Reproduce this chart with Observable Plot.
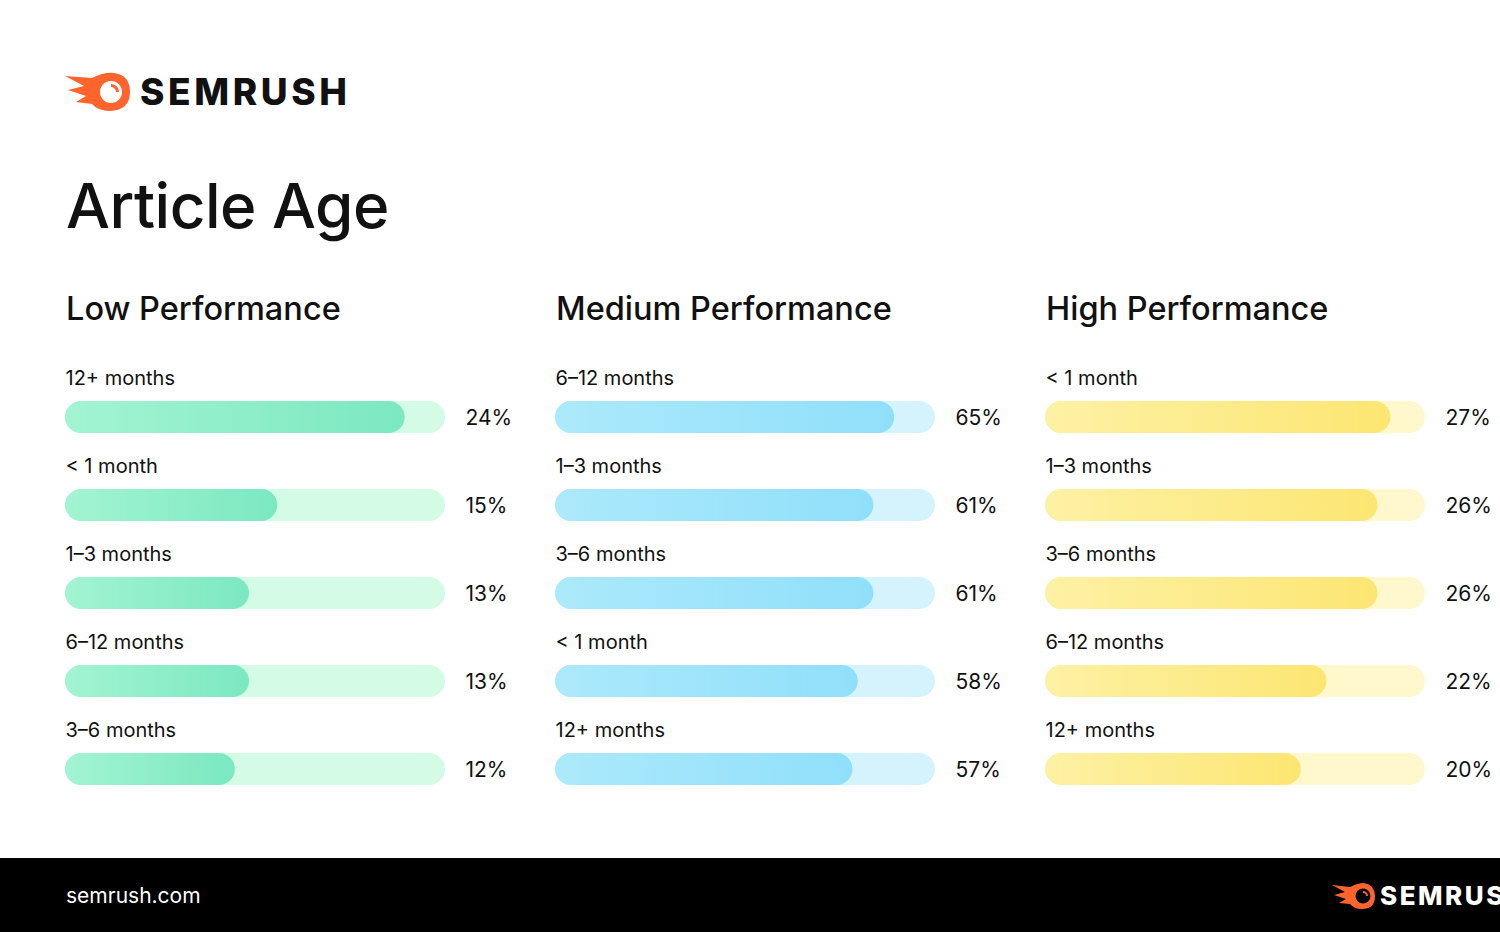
<!DOCTYPE html>
<html>
<head>
<meta charset="utf-8">
<script src="https://cdn.jsdelivr.net/npm/d3@7"></script>
<script src="https://cdn.jsdelivr.net/npm/@observablehq/plot@0.6"></script>
<style>
  html, body { margin: 0; padding: 0; background: #fff; }
  body { width: 1500px; height: 932px; position: relative; overflow: hidden; font-family: "Inter", "DejaVu Sans", sans-serif; color: #111; }
  .abs { position: absolute; }
  .title { left: 66px; top: 168px; font-size: 62px; font-weight: 500; letter-spacing: -0.5px; white-space: nowrap; }
  .ptitle { top: 289px; font-size: 32.5px; font-weight: 500; white-space: nowrap; }
  .footer { left: 0; top: 858px; width: 1500px; height: 74px; background: #000; }
  .footer .url { position: absolute; left: 66px; top: 25px; color: #fff; font-size: 21px; }
  svg.panel { position: absolute; overflow: visible; }
</style>
</head>
<body>
<!-- top logo -->
<svg class="abs" style="left:62px;top:68px" width="320" height="48" viewBox="0 0 320 48">
  <path d="M3 8 L30 10 Q42 4 52 5 Q68 7 68 24 Q68 42 48 43 Q36 43 30 36 L14 34 L24 28 L6 22 L22 18 Z" fill="#ff642d"/>
  <circle cx="49" cy="24" r="11" fill="#fff"/>
  <path d="M49 16 A8 8 0 0 1 57 24 L54 24 A5 5 0 0 0 49 19 Z" fill="#ff642d"/>
  <text x="78" y="37" font-family="Inter, sans-serif" font-weight="800" font-size="37" fill="#111" letter-spacing="3.6">SEMRUSH</text>
</svg>

<div class="abs title">Article Age</div>
<div class="abs ptitle" id="pt0" style="left:66px">Low Performance</div>
<div class="abs ptitle" id="pt1" style="left:556px">Medium Performance</div>
<div class="abs ptitle" id="pt2" style="left:1046px">High Performance</div>

<div class="abs footer">
  <div class="url">semrush.com</div>
  <svg style="position:absolute;left:1330px;top:22px" width="200" height="32" viewBox="0 0 200 32">
    <path d="M2 5 L20 7 Q28 3 34 3 Q45 5 45 16 Q45 29 32 29 Q24 29 20 24 L9 23 L16 19 L4 15 L15 12 Z" fill="#ff642d"/>
    <circle cx="33" cy="16" r="7.5" fill="#000"/>
    <path d="M33 11 A5 5 0 0 1 38 16 L36 16 A3 3 0 0 0 33 13 Z" fill="#ff642d"/>
    <text x="50" y="25" font-family="Inter, sans-serif" font-weight="800" font-size="26" fill="#fff" letter-spacing="2.5">SEMRUSH</text>
  </svg>
</div>

<script>
// ---- data ----
const panelTitles = ["Low Performance", "Medium Performance", "High Performance"];
const lowCategories = ["12+ months", "< 1 month", "1–3 months", "6–12 months", "3–6 months"];
const lowValues = [24, 15, 13, 13, 12];
const mediumCategories = ["6–12 months", "1–3 months", "3–6 months", "< 1 month", "12+ months"];
const mediumValues = [65, 61, 61, 58, 57];
const highCategories = ["< 1 month", "1–3 months", "3–6 months", "6–12 months", "12+ months"];
const highValues = [27, 26, 26, 22, 20];
const trackMax = [26.85, 72.8, 29.7];

// ---- styles ----
const palettes = [
  {track: "#d3fbe5", from: "#a3f4d2", to: "#7be8c1"},
  {track: "#d4f3fd", from: "#ace9fb", to: "#90dffa"},
  {track: "#fef8cc", from: "#fdf1a4", to: "#fce672"}
];
const lefts = [65, 555, 1045];
const panels = [
  [lowCategories, lowValues],
  [mediumCategories, mediumValues],
  [highCategories, highValues]
];

panels.forEach(([cats, vals], i) => {
  const data = cats.map((c, j) => ({category: c, value: vals[j]}));
  const max = trackMax[i];
  const pal = palettes[i];
  const svg = Plot.plot({
    width: 470,
    height: 480,
    marginLeft: 0, marginRight: 90, marginTop: 0, marginBottom: 0,
    style: {fontFamily: "Inter, sans-serif", color: "#111", background: "transparent", overflow: "visible"},
    x: {domain: [0, max], range: [0, 380], axis: null},
    y: {domain: cats, range: [61, 445], paddingInner: 56 / 88, paddingOuter: 0, axis: null},
    marks: [
      Plot.barX(data, {x1: () => 0, x2: () => max, y: "category", fill: pal.track, rx: 16}),
      Plot.barX(data, {x1: () => 0, x2: "value", y: "category", fill: `url(#grad${i})`, rx: 16}),
      Plot.text(data, {x: () => 0, y: "category", text: "category", textAnchor: "start", dy: -39, fontSize: 20, fill: "#111"}),
      Plot.text(data, {x: () => max, y: "category", text: d => d.value + "%", textAnchor: "start", dx: 20, dy: 1, fontSize: 21, fill: "#111"})
    ]
  });
  svg.classList.add("panel");
  svg.style.left = lefts[i] + "px";
  svg.style.top = "340px";
  const ns = "http://www.w3.org/2000/svg";
  const defs = document.createElementNS(ns, "defs");
  const lg = document.createElementNS(ns, "linearGradient");
  lg.setAttribute("id", `grad${i}`);
  lg.setAttribute("x1", "0"); lg.setAttribute("x2", "1"); lg.setAttribute("y1", "0"); lg.setAttribute("y2", "0");
  [[0, pal.from], [1, pal.to]].forEach(([o, c]) => {
    const s = document.createElementNS(ns, "stop");
    s.setAttribute("offset", o);
    s.setAttribute("stop-color", c);
    lg.appendChild(s);
  });
  defs.appendChild(lg);
  svg.insertBefore(defs, svg.firstChild);
  document.body.appendChild(svg);
});
</script>
</body>
</html>
